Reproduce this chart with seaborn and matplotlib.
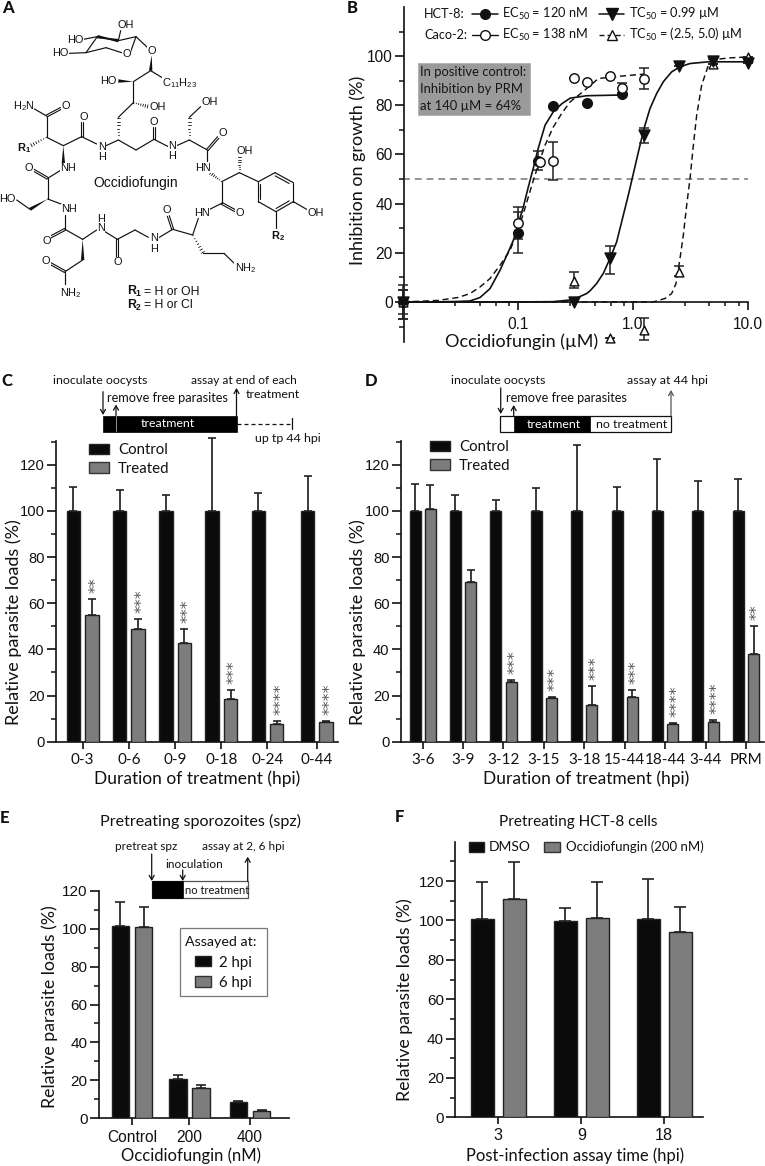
import numpy as np, pandas as pd, matplotlib
matplotlib.use('Agg')
import matplotlib.pyplot as plt
import seaborn as sns
from matplotlib.patches import Patch, Rectangle, Polygon
from matplotlib.ticker import FixedLocator, NullFormatter

# ---------- data ----------
C_groups = ['0-3', '0-6', '0-9', '0-18', '0-24', '0-44']
C_control = [100, 100, 100, 100, 100, 100]
C_control_top = [110.4, 108.9, 106.8, 131.4, 107.8, 115.3]
C_treated = [55, 49, 42.6, 18.3, 7.7, 8.5]
C_treated_top = [61.9, 53, 49, 22.4, 8.9, 9]
C_stars = [2, 3, 3, 3, 4, 4]

D_groups = ['3-6', '3-9', '3-12', '3-15', '3-18', '15-44', '18-44', '3-44', 'PRM']
D_control = [100] * 9
D_control_top = [111.8, 106.8, 104.9, 110.1, 128.6, 110.3, 122.3, 112.9, 114]
D_treated = [101, 69.2, 25.7, 18.9, 15.9, 19.2, 7.5, 8.4, 37.9]
D_treated_top = [111.4, 74.3, 26.7, 19.2, 24.1, 22.4, 8.2, 9.4, 50.1]
D_stars = [0, 0, 3, 3, 3, 3, 4, 4, 2]

E_groups = ['Control', '200', '400']
E_2h = [101.3, 20.6, 8.6]
E_2h_top = [114, 22.6, 9.2]
E_6h = [101, 15.9, 3.9]
E_6h_top = [111.4, 17.3, 4.2]

F_groups = ['3', '9', '18']
F_dmso = [100.7, 99.7, 100.8]
F_dmso_top = [119.3, 106.1, 121.2]
F_occ = [111, 101.4, 94]
F_occ_top = [129.5, 119.7, 106.6]

# panel B: measured points and error limits
ec_hct_x = [0.01, 0.1, 0.15, 0.2, 0.4, 0.8]
ec_hct_y = [0, 28.2, 57.4, 79.7, 81, 84.6]
ec_hct_hi = [6.8, 36.7, 61.5, 79.7, 81, 84.6]
ec_hct_lo = [-4.8, 20, 53.6, 79.7, 81, 84.6]
ec_caco_x = [0.1, 0.155, 0.2, 0.31, 0.4, 0.63, 0.8, 1.25]
ec_caco_y = [32.2, 57, 57.4, 91.2, 89.6, 91.9, 86.9, 90.6]
ec_caco_hi = [38.7, 57, 65.2, 91.2, 89.6, 91.9, 88.9, 95]
ec_caco_lo = [25.6, 57, 49.5, 91.2, 89.6, 91.9, 84.9, 86.6]
tc_hct_x = [0.01, 0.31, 0.63, 1.25, 2.5, 5, 10]
tc_hct_y = [0, 0, 17.7, 68, 96, 98, 97.3]
tc_hct_hi = [5, 0, 22.7, 70.8, 96, 99, 97.3]
tc_hct_lo = [-7, 0, 11.5, 64.5, 96, 97, 97.3]
tc_caco_x = [0.01, 0.31, 0.63, 1.25, 2.5, 5, 10]
tc_caco_y = [0, 8.6, -14.6, -11.3, 12.2, 97, 99.8]
tc_caco_hi = [5, 12.2, -14.6, -6.5, 14.7, 97, 99.8]
tc_caco_lo = [-7, 5.8, -14.6, -15.6, 10.7, 97, 99.8]
# panel B: fitted curves
ec_hct_curve_x = [0.01, 0.02, 0.03, 0.0383, 0.0468, 0.0571, 0.0698, 0.0825, 0.0912, 0.1007, 0.1114, 0.123, 0.136, 0.15, 0.172, 0.203, 0.24, 0.284, 0.395, 0.8]
ec_hct_curve_y = [0, 0.05, 0.2, 0.4, 1.8, 5.4, 12.9, 20.4, 25.1, 31.9, 38.7, 46.8, 54.5, 62.5, 71.9, 77.4, 80.6, 82.9, 83.9, 84.2]
ec_caco_curve_x = [0.01, 0.02, 0.03, 0.0383, 0.0468, 0.0571, 0.0698, 0.0853, 0.0975, 0.1114, 0.123, 0.136, 0.15, 0.172, 0.203, 0.24, 0.284, 0.358, 0.5, 0.8, 1.25]
ec_caco_curve_y = [0, 0.6, 1.8, 3.4, 6.1, 9.5, 14.9, 21, 27.8, 36, 42.7, 49.5, 55.6, 63.8, 71.2, 76.7, 81.4, 85.1, 90.9, 91.9, 92.7]
tc_hct_curve_x = [0.01, 0.1, 0.2, 0.3, 0.395, 0.423, 0.483, 0.552, 0.631, 0.721, 0.824, 0.91, 1.007, 1.151, 1.271, 1.406, 1.606, 1.836, 2.168, 2.564, 3.133, 4.52, 10]
tc_hct_curve_y = [0, 0, 0.1, 0.9, 3.4, 4.5, 7.5, 11.6, 17.7, 24.4, 35.3, 43.4, 52.2, 63.8, 71.9, 78.7, 84.8, 89.6, 93.6, 95.7, 97, 97.7, 97.7]
tc_caco_curve_x = [0.01, 1.5, 1.897, 2.168, 2.366, 2.564, 2.74, 2.93, 3.133, 3.35, 3.58, 3.955, 4.52, 5.52, 6.97, 10]
tc_caco_curve_y = [0, 0, 1.4, 3.4, 7.5, 17.7, 27.2, 39.4, 50.2, 63.8, 76, 88.2, 96.3, 98.8, 99.3, 99.7]
B_x_minor = [0.0285, 0.047, 0.065, 0.083, 0.285, 0.47, 0.65, 0.83, 2.85, 4.55, 6.3, 8.3]

# ---------- style ----------
W, H = 765, 1166
BODY = 'Lato'
SANS = 'Liberation Sans'
sns.set_theme(style='ticks', rc={'axes.linewidth': 1.2, 'xtick.major.width': 1.2, 'ytick.major.width': 1.2,
                                 'ytick.minor.width': 1.1, 'xtick.minor.width': 1.1, 'text.color': '#111',
                                 'axes.edgecolor': '#111', 'xtick.color': '#111', 'ytick.color': '#111',
                                 'axes.labelcolor': '#111', 'mathtext.default': 'regular'})
plt.rcParams['font.family'] = [BODY, 'DejaVu Sans']
BLACK, GREY = '#0b0b0b', '#7d7d7d'
fig = plt.figure(figsize=(W / 100, H / 100), dpi=100)

def axes_px(l, t, r, b):
    return fig.add_axes([l / W, 1 - b / H, (r - l) / W, (b - t) / H])

ov = fig.add_axes([0, 0, 1, 1], zorder=10)
ov.set_xlim(0, W); ov.set_ylim(H, 0); ov.axis('off'); ov.patch.set_alpha(0)

def T(x, y, s, size=9, ha='left', va='center', color='#111', family=BODY, **kw):
    return ov.text(x, y, s, fontsize=size, ha=ha, va=va, color=color, family=family, **kw)

def arrow(x, y0, y1, color='#111'):
    ov.annotate('', xy=(x, y1), xytext=(x, y0),
                arrowprops=dict(arrowstyle='->,head_length=0.35,head_width=0.2', lw=0.9, color=color,
                                shrinkA=0, shrinkB=0, mutation_scale=9))

def bars_panel(ax, groups, a, a_top, b, b_top, names, width, gap, cap, shift=None):
    df = pd.DataFrame({'group': list(groups) * 2,
                       'value': list(a) + list(b),
                       'series': [names[0]] * len(groups) + [names[1]] * len(groups)})
    sns.barplot(data=df, x='group', y='value', hue='series', order=groups, hue_order=names,
                palette={names[0]: BLACK, names[1]: GREY}, width=width, gap=gap, legend=False,
                edgecolor='#222', linewidth=1.0, saturation=1, ax=ax, zorder=3)
    centers = []
    for cont, tops, vals in zip(ax.containers, (a_top, b_top), (a, b)):
        cs = []
        for i, (p, tp, v) in enumerate(zip(cont, tops, vals)):
            if shift and i in shift:
                p.set_x(p.get_x() + shift[i])
            c = p.get_x() + p.get_width() / 2
            cs.append(c)
            ax.errorbar(c, v, yerr=[[0], [tp - v]], color='#222', lw=1.25, capsize=cap, capthick=1.2, zorder=2,
                        clip_on=False)
        centers.append(cs)
    ticks = np.arange(len(groups), dtype=float)
    if shift:
        for i, d in shift.items():
            ticks[i] += d
    ax.set_xticks(ticks); ax.set_xticklabels(groups)
    sns.despine(ax=ax)
    return centers

def y_style(ax, top, major_top, size):
    ax.set_ylim(0, top)
    ax.yaxis.set_major_locator(FixedLocator(np.arange(0, major_top + 1, 20)))
    ax.yaxis.set_minor_locator(FixedLocator(np.arange(10, top + 0.1, 20)))
    ax.tick_params(axis='y', which='major', length=6.5, labelsize=size, pad=1.5, labelfontfamily=SANS)
    ax.tick_params(axis='y', which='minor', length=3.8)

def stars(ax, xs, tops, counts):
    for x, t, n in zip(xs, tops, counts):
        if n:
            ax.annotate('*' * n, xy=(x, t), xytext=(8.4, 6.0), textcoords='offset pixels', ha='left', va='baseline',
                        rotation=90, rotation_mode='anchor', fontsize=11.5, color='#555', family='DejaVu Sans',
                        annotation_clip=False)

def labels(ax, xl, xpos, yl, ypos, xsize=12.5, ysize=13):
    ax.set_xlabel(xl, fontsize=xsize); ax.set_ylabel(yl, fontsize=ysize)
    ax.xaxis.set_label_coords(*xpos, transform=ov.transData)
    ax.yaxis.set_label_coords(*ypos, transform=ov.transData)
    ax.xaxis.label.set_va('center'); ax.yaxis.label.set_va('center')

def bar_legend(ax, names, x, y, fs, hl, hh, ls, pad):
    h = [Patch(facecolor=BLACK, edgecolor='#222', lw=1), Patch(facecolor=GREY, edgecolor='#333', lw=1)]
    return ax.legend(h, names, loc='upper left', bbox_to_anchor=(x, y), bbox_transform=ov.transData, frameon=False,
                     borderpad=0, borderaxespad=0, fontsize=fs, handlelength=hl, handleheight=hh, labelspacing=ls,
                     handletextpad=pad)

# ---------- panel A: structure ----------
Z = 1 / 3
single = [((258,158),(318,143)),((318,143),(365,158)),((392,155),(408,110)),((408,110),(442,142)),((208,160),(258,158)),
          ((250,118),(292,110)),((355,122),(362,92)),((452,212),(400,245)),((452,212),(495,238)),((400,245),(400,308)),
          ((400,308),(355,352)),((355,420),(318,437)),((355,420),(408,450)),((408,450),(462,418)),((462,418),(505,440)),
          ((530,437),(568,420)),((568,352),(602,320)),((568,420),(622,450)),((622,450),(622,490)),((665,545),(718,518)),
          ((718,518),(775,545)),((775,545),(825,518)),((880,548),(880,605)),((828,635),(775,605)),((880,605),(920,628)),
          ((828,635),(828,685)),((665,545),(665,610)),((665,610),(625,630)),((595,655),(578,705)),((610,760),(672,760)),
          ((672,760),(708,795)),((578,705),(518,688)),((518,688),(478,712)),((445,712),(405,690)),((405,690),(352,718)),
          ((352,718),(315,695)),((290,690),(248,718)),((248,718),(195,688)),((195,688),(195,645)),((183,612),(143,597)),
          ((90,628),(50,600)),((143,597),(143,535)),((143,535),(180,512)),((190,437),(140,412)),((140,412),(140,348)),
          ((140,348),(100,325)),((190,437),(245,410)),((245,410),(290,432)),((248,780),(195,815)),((195,815),(195,860)),
          ((258,158),(292,110)),((408,110),(355,122))]
double = [((462,418),(462,382)),((622,450),(655,412)),((665,610),(705,632)),((518,688),(505,648)),((352,718),(352,770)),
          ((195,688),(150,712)),((143,535),(100,510)),((140,348),(183,325)),((245,410),(245,365)),((195,815),(150,790))]
ring_double = [((825,518),(880,548),(-1,1)),((880,605),(828,635),(-1,-1)),((775,605),(775,545),(1,0))]
wedge = [((292,110),(355,122)),((455,165),(452,212)),((400,245),(355,243)),((355,122),(292,110)),((190,437),(190,490)),
         ((143,597),(90,628)),((248,718),(248,780))]
hashed = [((400,308),(445,320)),((355,420),(355,352)),((568,420),(568,352)),((665,545),(630,518)),((718,518),(718,470)),
          ((578,705),(610,760)),((140,412),(92,437))]
atoms = [(378,75,'OH'),(225,120,'HO'),(182,160,'HO'),(380,162,'O'),(455,152,'O'),(325,243,'HO'),(540,248,'C$_{11}$H$_{23}$'),
         (472,320,'OH'),(70,318,'H$_2$N'),(197,318,'O'),(250,350,'O'),(462,365,'O'),(628,305,'OH'),(668,398,'O'),
         (305,440,'N'),(305,470,'H'),(517,437,'N'),(517,467,'H'),(610,503,'HN'),(733,452,'OH'),(205,505,'NH'),(87,503,'O'),
         (22,597,'HO'),(208,627,'NH'),(947,638,'OH'),(718,640,'O'),(605,638,'HN'),(500,630,'O'),(303,657,'H'),(303,685,'N'),
         (140,722,'O'),(462,715,'N'),(462,747,'H'),(352,787,'O'),(737,805,'NH$_2$'),(138,782,'O'),(213,878,'NH$_2$')]
for (a, b) in single:
    ov.plot([a[0]*Z, b[0]*Z], [a[1]*Z, b[1]*Z], color='#111', lw=0.85, solid_capstyle='round')
for (a, b) in double:
    a, b = np.array(a)*Z, np.array(b)*Z
    n = np.array([-(b-a)[1], (b-a)[0]]); n = n / np.hypot(*n) * 1.0
    for s in (-1, 1):
        ov.plot([a[0]+s*n[0], b[0]+s*n[0]], [a[1]+s*n[1], b[1]+s*n[1]], color='#111', lw=0.8)
for (a, b, d) in ring_double:
    a, b = np.array(a)*Z, np.array(b)*Z
    ov.plot([a[0], b[0]], [a[1], b[1]], color='#111', lw=0.85)
    off = np.array(d) * 2.0
    m = (b - a) * 0.12
    ov.plot([a[0]+m[0]+off[0], b[0]-m[0]+off[0]], [a[1]+m[1]+off[1], b[1]-m[1]+off[1]], color='#111', lw=0.8)
for (a, b) in wedge:
    a, b = np.array(a)*Z, np.array(b)*Z
    n = np.array([-(b-a)[1], (b-a)[0]]); n = n / np.hypot(*n) * 1.7
    ov.add_patch(Polygon([a, b+n, b-n], closed=True, color='#111', lw=0))
for (a, b) in hashed:
    a, b = np.array(a)*Z, np.array(b)*Z
    n = np.array([-(b-a)[1], (b-a)[0]]); n = n / np.hypot(*n)
    for f in np.linspace(0.05, 0.95, 7):
        p = a + (b-a)*f
        ov.plot([p[0]-n[0]*1.8*f, p[0]+n[0]*1.8*f], [p[1]-n[1]*1.8*f, p[1]+n[1]*1.8*f], color='#111', lw=0.6)
for (x, y, s) in atoms:
    T(x*Z, y*Z, s, 7.9, ha='center', family=SANS, bbox=dict(fc='white', ec='none', pad=0.2), zorder=5)
T(72*Z, 445*Z, 'R$_1$', 7.9, ha='center', family=SANS, fontweight='bold')
T(835*Z, 707*Z, 'R$_2$', 7.9, ha='center', family=SANS, fontweight='bold')
T(408*Z, 550*Z, 'Occidiofungin', 10, ha='center', family=SANS)
T(380*Z, 875*Z, 'R$_1$', 8.8, family=SANS, fontweight='bold')
T(380*Z, 916*Z, 'R$_2$', 8.8, family=SANS, fontweight='bold')
T(432*Z, 875*Z, '= H or OH', 8.8, family=SANS)
T(432*Z, 916*Z, '= H or Cl', 8.8, family=SANS)

# ---------- panel B ----------
axB = axes_px(404, 7, 748, 342)
axB.set_xscale('log')
axB.set_xlim(10 ** (-1.991), 10); axB.set_ylim(-16.3, 120)
for xs, ys, ls_, lw in [(ec_hct_curve_x, ec_hct_curve_y, '-', 1.2), (ec_caco_curve_x, ec_caco_curve_y, (0, (4.2, 2.6)), 1.05),
                        (tc_hct_curve_x, tc_hct_curve_y, '-', 1.2), (tc_caco_curve_x, tc_caco_curve_y, (0, (4.2, 2.6)), 1.05)]:
    sns.lineplot(x=xs, y=ys, ax=axB, color='#111', linestyle=ls_, lw=lw, sort=False, errorbar=None, zorder=3)
axB.plot([0.01, 10], [50, 50], color='#777', lw=1.1, ls=(0, (4.5, 3.2)), zorder=2)
for xs, ys, lo, hi, mk, fc, s in [(ec_hct_x, ec_hct_y, ec_hct_lo, ec_hct_hi, 'o', '#111', 48),
                                  (ec_caco_x, ec_caco_y, ec_caco_lo, ec_caco_hi, 'o', 'white', 46),
                                  (tc_caco_x, tc_caco_y, tc_caco_lo, tc_caco_hi, '^', 'white', 40),
                                  (tc_hct_x, tc_hct_y, tc_hct_lo, tc_hct_hi, 'v', '#111', 62)]:
    ys_a, lo_a, hi_a = map(np.array, (ys, lo, hi))
    axB.errorbar(xs, ys_a, yerr=[ys_a - lo_a, hi_a - ys_a], fmt='none', ecolor='#222', lw=1.1, capsize=3.9, capthick=1.1,
                 zorder=4, clip_on=False)
    sns.scatterplot(x=xs, y=ys, ax=axB, marker=mk, s=s, facecolor=fc, edgecolor='#111', linewidth=1.05, zorder=5, clip_on=False)
sns.despine(ax=axB)
axB.spines['bottom'].set_position(('data', 0))
axB.spines['bottom'].set_zorder(3)
axB.set_xticks([0.1, 1, 10]); axB.set_xticklabels(['0.1', '1.0', '10.0'])
axB.xaxis.set_minor_locator(FixedLocator(B_x_minor)); axB.xaxis.set_minor_formatter(NullFormatter())
axB.tick_params(axis='x', which='major', length=6, labelsize=11.2, pad=5, labelfontfamily=SANS)
axB.tick_params(axis='x', which='minor', length=3)
axB.set_yticks(np.arange(0, 101, 20)); axB.yaxis.set_minor_locator(FixedLocator(np.arange(-10, 111, 20)))
axB.tick_params(axis='y', which='major', length=6.5, labelsize=11.2, pad=1.5, labelfontfamily=SANS)
axB.tick_params(axis='y', which='minor', length=3.8)
labels(axB, 'Occidiofungin (µM)', (521.7, 342), 'Inhibition on growth (%)', (358, 170), xsize=13, ysize=13)
ov.add_patch(Rectangle((417.7, 63.3), 112.3, 51.4, fc='#9a9a9a', ec='#b0b0b0', lw=0.6, zorder=6))
for y, s in [(72, 'In positive control:'), (89, 'Inhibition by PRM'), (106, 'at 140 µM = 64%')]:
    T(420, y, s, 9.4, zorder=7, color='#161616')
T(424.3, 14.3, 'HCT-8:', 9.1); T(424.3, 34.7, 'Caco-2:', 9.1)
T(502.3, 14.3, 'EC$_{50}$ = 120 nM', 9.2); T(502.3, 34.7, 'EC$_{50}$ = 138 nM', 9.2)
T(629.3, 14.3, 'TC$_{50}$ = 0.99 µM', 9.2); T(629.3, 34.7, 'TC$_{50}$ = (2.5, 5.0) µM', 9.2)
ov.plot([472.3, 497.7], [14.3, 14.3], '-', color='#111', lw=1.1)
ov.plot([485], [14.3], 'o', color='#111', ms=7)
ov.plot([472.3, 497.7], [34.7, 34.7], '-', color='#111', lw=1.0)
ov.plot([485], [34.7], 'o', mfc='white', mec='#111', ms=7, mew=1)
ov.plot([599, 624.3], [14.3, 14.3], '-', color='#111', lw=1.1)
ov.plot([611.7], [14.3], 'v', color='#111', ms=8)
ov.plot([599, 624.3], [34.7, 34.7], '--', color='#111', lw=1.0, dashes=(3.6, 2.2))
ov.plot([611.7], [34.7], '^', mfc='white', mec='#111', ms=7, mew=1)

# ---------- panel C ----------
axC = axes_px(55.7, 440.7, 338, 741.7)
axC.set_xlim(-0.584, 5.526)
cC = bars_panel(axC, C_groups, C_control, C_control_top, C_treated, C_treated_top, ['Control', 'Treated'], 0.8, 0.28, 2.9,
                shift={5: 0.067})
axC.set_xlim(-0.584, 5.526)
y_style(axC, 130.4, 120, 10.6)
axC.tick_params(axis='x', length=5, labelsize=11, pad=3.2)
labels(axC, 'Duration of treatment (hpi)', (197, 779), 'Relative parasite loads (%)', (13.5, 621.7))
stars(axC, cC[1], C_treated_top, C_stars)
bar_legend(ov, ['Control', 'Treated'], 89, 443, 10.8, 1.31, 0.69, 0.32, 0.62)
T(53, 381, 'inoculate oocysts', 8.9); T(107, 398, 'remove free parasites', 9.2)
T(191, 381, 'assay at end of each', 8.6); T(246, 394, 'treatment', 8.9)
ov.add_patch(Rectangle((102.7, 415.7), 134, 16, fc='#000', ec='#000', lw=0.5))
ov.plot([116, 116], [416, 431], color='#aaa', lw=0.6)
T(168, 423.5, 'treatment', 8.9, ha='center', color='white')
ov.plot([236.7, 292], [423.5, 423.5], color='#111', lw=0.9, dashes=(3.2, 2.4))
ov.plot([292, 292], [418, 429], color='#111', lw=0.9)
T(255, 439, 'up tp 44 hpi', 8.9)
arrow(103, 391.7, 415); arrow(116, 415.7, 404.5); arrow(236.5, 415.7, 388)

# ---------- panel D ----------
axD = axes_px(400.7, 441, 764, 741.7)
axD.set_xlim((400.7 - 422.7) / 40.4, (764 - 422.7) / 40.4)
cD = bars_panel(axD, D_groups, D_control, D_control_top, D_treated, D_treated_top, ['Control', 'Treated'], 0.76, 0.285, 2.9)
axD.set_xlim((400.7 - 422.7) / 40.4, (764 - 422.7) / 40.4)
y_style(axD, 130.3, 120, 10.6)
axD.tick_params(axis='x', length=5, labelsize=11, pad=3.2)
labels(axD, 'Duration of treatment (hpi)', (586, 779), 'Relative parasite loads (%)', (358, 621.7))
stars(axD, cD[1], D_treated_top, D_stars)
leg_c = ov.get_legend()
bar_legend(ov, ['Control', 'Treated'], 430, 440, 10.8, 1.31, 0.69, 0.32, 0.62)
ov.add_artist(leg_c)
T(450.7, 381, 'inoculate oocysts', 8.9); T(505.7, 398, 'remove free parasites', 9.2); T(627, 381, 'assay at 44 hpi', 8.9)
ov.add_patch(Rectangle((500.3, 415.7), 170.7, 16, fc='white', ec='#111', lw=0.9))
ov.add_patch(Rectangle((513.7, 415.7), 76, 16, fc='#000', ec='#000', lw=0.5))
T(554, 424, 'treatment', 8.9, ha='center', color='white')
T(631.7, 424, 'no treatment', 8.9, ha='center')
arrow(500.7, 388, 414); arrow(513.7, 415.7, 405); arrow(671, 415.7, 390, '#555')

# ---------- panel E ----------
axE = axes_px(98.7, 891, 288.7, 1118)
axE.set_xlim((98.7 - 132) / 59, (288.7 - 132) / 59)
bars_panel(axE, E_groups, E_2h, E_2h_top, E_6h, E_6h_top, ['2 hpi', '6 hpi'], 0.78, 0.23, 3.6, shift={1: -0.03})
axE.set_xlim((98.7 - 132) / 59, (288.7 - 132) / 59)
y_style(axE, 120, 120, 11)
axE.tick_params(axis='x', length=5, labelsize=11.2, pad=4, labelfontfamily=SANS)
labels(axE, 'Occidiofungin (nM)', (190.7, 1155.7), 'Relative parasite loads (%)', (50, 1006.7), xsize=12, ysize=12.8)
axE.set_title('Pretreating sporozoites (spz)', fontsize=11.6, y=1, va='center')
axE.title.set_transform(ov.transData); axE.title.set_position((200.7, 821.7))
ov.add_patch(Rectangle((180.3, 928.3), 87, 68, fc='white', ec='#777', lw=0.9))
T(184.7, 942, 'Assayed at:', 10.3)
leg_d = ov.get_legend()
bar_legend(ov, ['2 hpi', '6 hpi'], 195, 955.5, 10.8, 1.05, 0.66, 0.42, 0.55).set_zorder(20)
ov.add_artist(leg_d)
T(146, 846.7, 'pretreat spz', 8.5, ha='center'); T(243, 847, 'assay at 2, 6 hpi', 8.5, ha='center')
T(194, 864, 'inoculation', 8.5, ha='center')
ov.add_patch(Rectangle((151.7, 881.3), 96, 16.7, fc='white', ec='#555', lw=0.9))
ov.add_patch(Rectangle((151.7, 881.3), 31.6, 16.7, fc='#000', ec='#000', lw=0.5))
T(216.7, 890.5, 'no treatment', 8, ha='center')
arrow(151.7, 854, 881); arrow(182.7, 870, 881); arrow(247.7, 881.3, 856.7)

# ---------- panel F ----------
axF = axes_px(455, 841.7, 702.7, 1117.3)
axF.set_xlim((455 - 498.3) / 83, (702.7 - 498.3) / 83)
bars_panel(axF, F_groups, F_dmso, F_dmso_top, F_occ, F_occ_top, ['DMSO', 'Occidiofungin (200 nM)'], 0.77, 0.296, 4.6)
axF.set_xlim((455 - 498.3) / 83, (702.7 - 498.3) / 83)
y_style(axF, 140, 120, 11)
axF.set_yticks(np.arange(10, 131, 20), minor=True)
axF.tick_params(axis='x', length=5, labelsize=11.6, pad=3, labelfontfamily=SANS)
labels(axF, 'Post-infection assay time (hpi)', (575, 1155.7), 'Relative parasite loads (%)', (405, 999.7), xsize=11.9, ysize=12.8)
axF.set_title('Pretreating HCT-8 cells', fontsize=11.1, y=1, va='center')
axF.title.set_transform(ov.transData); axF.title.set_position((578.3, 821.7))
ov.add_patch(Rectangle((468.7, 841.7), 15.3, 10, fc=BLACK, ec='#222', lw=1))
ov.add_patch(Rectangle((544.3, 841.7), 15.7, 10, fc=GREY, ec='#333', lw=1))
T(488.7, 847, 'DMSO', 10); T(566, 847, 'Occidiofungin (200 nM)', 9.5)

# ---------- panel letters ----------
for x, y, s in [(2, 8, 'A'), (347, 8, 'B'), (1, 381, 'C'), (365, 381, 'D'), (0, 818, 'E'), (395, 817, 'F')]:
    T(x, y, s, 12, fontweight='black')

fig.savefig('out.png', dpi=100)
